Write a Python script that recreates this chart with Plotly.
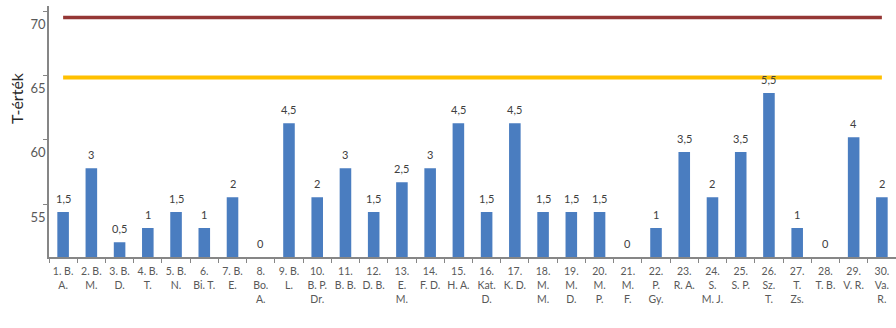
import plotly.graph_objects as go

# Students (number + initials) shown on the category axis
students = [
    "1. B.<br>A.", "2. B.<br>M.", "3. B.<br>D.", "4. B.<br>T.", "5. B.<br>N.",
    "6.<br>Bi. T.", "7. B.<br>E.", "8.<br>Bo.<br>A.", "9. B.<br>L.", "10.<br>B. P.<br>Dr.",
    "11.<br>B. B.", "12.<br>D. B.", "13.<br>E.<br>M.", "14.<br>F. D.", "15.<br>H. A.",
    "16.<br>Kat.<br>D.", "17.<br>K. D.", "18.<br>M.<br>M.", "19.<br>M.<br>D.", "20.<br>M.<br>P.",
    "21.<br>M.<br>F.", "22.<br>P.<br>Gy.", "23.<br>R. A.", "24.<br>S.<br>M. J.", "25.<br>S. P.",
    "26.<br>Sz.<br>T.", "27.<br>T.<br>Zs.", "28.<br>T. B.", "29.<br>V. R.", "30.<br>Va.<br>R.",
]

# Raw scores (printed above the bars)
raw_scores = [1.5, 3, 0.5, 1, 1.5, 1, 2, 0, 4.5, 2,
              3, 1.5, 2.5, 3, 4.5, 1.5, 4.5, 1.5, 1.5, 1.5,
              0, 1, 3.5, 2, 3.5, 5.5, 1, 0, 4, 2]

# T-scores (bar heights)
t_scores = [54.4, 57.8, 52.05, 53.15, 54.4, 53.15, 55.55, 50.9, 61.3, 55.55,
            57.8, 54.4, 56.7, 57.8, 61.3, 54.4, 61.3, 54.4, 54.4, 54.4,
            50.9, 53.15, 59.05, 55.55, 59.05, 63.65, 53.15, 50.9, 60.2, 55.55]

# Reference levels
upper_level = 69.5
lower_level = 64.85

y_range = [50.9, 70.4]
y_ticks = [55, 60, 65, 70]

FONT = "Lato, 'Liberation Sans', Arial, sans-serif"

fig = go.Figure()

fig.add_trace(go.Bar(
    x=students, y=t_scores,
    marker=dict(color="#4a7dc0", line=dict(width=0)),
    width=0.41,
    hoverinfo="x+y",
))

fig.add_trace(go.Scatter(
    x=students, y=[upper_level] * len(students),
    mode="lines", line=dict(color="#953735", width=3.5),
    hoverinfo="skip",
))
fig.add_trace(go.Scatter(
    x=students, y=[lower_level] * len(students),
    mode="lines", line=dict(color="#ffc000", width=4),
    hoverinfo="skip",
))

# Raw-score labels above each bar
for s, t, r in zip(students, t_scores, raw_scores):
    fig.add_annotation(
        x=s, y=t, xref="x", yref="y",
        text=f"{r:g}".replace(".", ","),
        showarrow=False, yanchor="bottom", yshift=5,
        font=dict(family=FONT, size=11, color="#404040"),
    )

# Axis title placed by hand
fig.add_annotation(
    xref="paper", yref="paper",
    x=(16 - 49) / 847, y=1 - (98 - 6) / 251,
    text="T-érték", textangle=-90, showarrow=False,
    xanchor="center", yanchor="middle",
    font=dict(family=FONT, size=16, color="#262626"),
)

fig.update_layout(
    width=896, height=328,
    margin=dict(l=49, r=0, t=6, b=71),
    paper_bgcolor="white", plot_bgcolor="white",
    showlegend=False,
    bargap=0.59,
    font=dict(family=FONT),
)

fig.update_xaxes(
    type="category",
    showline=True, linecolor="#868686", linewidth=1.5,
    ticks="outside", tickson="boundaries", ticklen=4, tickcolor="#868686",
    tickfont=dict(family=FONT, size=10.5, color="#595959"),
    tickangle=0, ticklabelstandoff=4,
    range=[-0.5, 29.5],
    showgrid=False,
)

fig.update_yaxes(
    range=y_range, tickvals=y_ticks,
    showline=True, linecolor="#868686", linewidth=1.5,
    ticks="outside", ticklen=4, tickcolor="#868686",
    tickfont=dict(family=FONT, size=13, color="#595959"),
    ticklabelshift=13, ticklabelstandoff=-5,
    showgrid=False, zeroline=False,
)

fig.write_html("out.html")
